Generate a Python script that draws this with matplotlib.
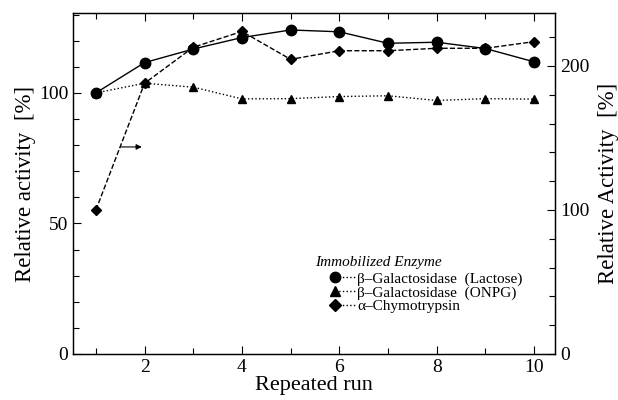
import matplotlib.pyplot as plt
from matplotlib.ticker import MultipleLocator
from matplotlib.lines import Line2D

plt.rcParams['font.family'] = ['Liberation Serif', 'DejaVu Serif']

# Data
runs = [1, 2, 3, 4, 5, 6, 7, 8, 9, 10]
gal_lactose = [100, 111.6, 116.8, 121.2, 124.1, 123.4, 119.0, 119.4, 117.0, 111.9]
gal_onpg = [100, 103.7, 102.2, 97.7, 97.8, 98.6, 98.9, 97.1, 97.8, 97.6]
chymotrypsin = [100, 188, 213, 224, 204.6, 210.6, 210.6, 212.3, 212.3, 216.9]

labels = ["β–Galactosidase  (Lactose)", "β–Galactosidase  (ONPG)", "α–Chymotrypsin"]

fig = plt.figure(figsize=(6.18, 4.0), dpi=100)
ax = fig.add_axes([73/618, 46/400, 482/618, 341/400])
ax2 = ax.twinx()

ax.plot(runs, gal_lactose, '-', color='black', lw=1.0, marker='o', ms=7.5)
ax.plot(runs, gal_onpg, ':', color='black', lw=1.0, marker='^', ms=6)
ax2.plot(runs, chymotrypsin, '--', color='black', lw=1.0, marker='D', ms=5.5)

ax.set_xlim(0.53, 10.43)
ax.set_ylim(0, 130.6)
ax2.set_ylim(0, 236.8)

ax.xaxis.set_major_locator(MultipleLocator(2))
ax.xaxis.set_minor_locator(MultipleLocator(1))
ax.yaxis.set_major_locator(MultipleLocator(50))
ax.yaxis.set_minor_locator(MultipleLocator(10))
ax2.yaxis.set_major_locator(MultipleLocator(100))
ax2.yaxis.set_minor_locator(MultipleLocator(20))

ax.tick_params(axis='x', which='both', direction='in', top=True, labelsize=14)
ax.tick_params(axis='y', which='both', direction='in', labelsize=14)
ax2.tick_params(axis='y', which='both', direction='in', labelsize=14)
for a in (ax, ax2):
    a.tick_params(which='major', length=6, width=0.8)
    a.tick_params(which='minor', length=4, width=0.8)
    for s in a.spines.values():
        s.set_linewidth(0.9)

ax.set_xlabel("Repeated run", fontsize=16, labelpad=0)
ax.set_ylabel("Relative activity  [%]", fontsize=16.5, labelpad=2)
ax2.set_ylabel("Relative Activity  [%]", fontsize=16.5, labelpad=6)

# arrow pointing to the right axis for the chymotrypsin curve
ax.annotate("", xy=(2.0, 79.3), xytext=(1.45, 79.3),
            arrowprops=dict(arrowstyle='-|>', color='black', lw=0.8,
                            mutation_scale=8))

handles = [
    Line2D([], [], ls=':', color='black', marker='o', ms=7.5, lw=1.0),
    Line2D([], [], ls=':', color='black', marker='^', ms=7.5, lw=1.0),
    Line2D([], [], ls=':', color='black', marker='D', ms=6.5, lw=1.0),
]
leg = ax.legend(handles, labels, loc='upper left', bbox_to_anchor=(0.5436, 0.2405),
                frameon=False, fontsize=11,
                handlelength=1.35, handletextpad=0.09, labelspacing=0.0,
                borderpad=0.0, borderaxespad=0.0, markerfirst=True)
for h in leg.legend_handles:
    h.set_markevery([0])
ax.text(0.502, 0.267, "Immobilized Enzyme", transform=ax.transAxes,
        fontsize=11, fontstyle='italic', ha='left', va='center')

fig.savefig("out.png", dpi=100)
